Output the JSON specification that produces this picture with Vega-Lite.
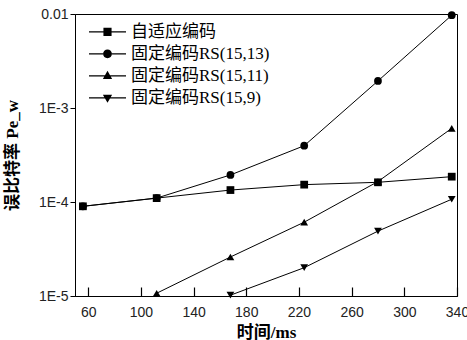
{
  "$schema": "https://vega.github.io/schema/vega-lite/v6.json",
  "width": 382,
  "height": 282,
  "autosize": "none",
  "padding": {"left": 75, "top": 14, "right": 10, "bottom": 44},
  "background": "white",
  "config": {
    "view": {"stroke": "black", "strokeWidth": 1},
    "axis": {"grid": false, "domainColor": "black", "tickColor": "black", "labelColor": "#222", "labelFont": "Liberation Sans", "labelFontSize": 14, "titleColor": "black"}
  },
  "data": {
    "values": [
      {"series": "自适应编码", "t": 56, "pe": 0.00009},
      {"series": "自适应编码", "t": 112, "pe": 0.00011},
      {"series": "自适应编码", "t": 168, "pe": 0.000134},
      {"series": "自适应编码", "t": 224, "pe": 0.000153},
      {"series": "自适应编码", "t": 280, "pe": 0.000162},
      {"series": "自适应编码", "t": 336, "pe": 0.000186},
      {"series": "固定编码RS(15,13)", "t": 56, "pe": 0.00009},
      {"series": "固定编码RS(15,13)", "t": 112, "pe": 0.00011},
      {"series": "固定编码RS(15,13)", "t": 168, "pe": 0.000194},
      {"series": "固定编码RS(15,13)", "t": 224, "pe": 0.000397},
      {"series": "固定编码RS(15,13)", "t": 280, "pe": 0.00194},
      {"series": "固定编码RS(15,13)", "t": 336, "pe": 0.0097},
      {"series": "固定编码RS(15,11)", "t": 112, "pe": 0.0000107},
      {"series": "固定编码RS(15,11)", "t": 168, "pe": 0.000026},
      {"series": "固定编码RS(15,11)", "t": 224, "pe": 0.000061},
      {"series": "固定编码RS(15,11)", "t": 280, "pe": 0.000165},
      {"series": "固定编码RS(15,11)", "t": 336, "pe": 0.000608},
      {"series": "固定编码RS(15,9)", "t": 168, "pe": 0.0000102},
      {"series": "固定编码RS(15,9)", "t": 224, "pe": 0.00002},
      {"series": "固定编码RS(15,9)", "t": 280, "pe": 0.000049},
      {"series": "固定编码RS(15,9)", "t": 336, "pe": 0.000107}
    ]
  },
  "encoding": {
    "x": {
      "field": "t", "type": "quantitative",
      "scale": {"domain": [50, 340], "nice": false, "zero": false},
      "axis": {"values": [60, 100, 140, 180, 220, 260, 300, 340], "title": "时间/ms", "titleFont": "Liberation Serif, Noto Sans CJK SC", "titleFontSize": 17, "titleFontWeight": "bold", "titlePadding": 5, "tickSize": -9, "tickWidth": 1.2, "labelPadding": 18, "labelFlush": false, "labelOverlap": false}
    },
    "y": {
      "field": "pe", "type": "quantitative",
      "scale": {"type": "log", "domain": [0.00001, 0.01], "nice": false},
      "axis": {"values": [0.00001, 0.0001, 0.001, 0.01], "labelExpr": "datum.value > 0.005 ? '0.01' : datum.value > 0.0005 ? '1E-3' : datum.value > 0.00005 ? '1E-4' : '1E-5'", "title": "误比特率 Pe_w", "titleFont": "Liberation Serif, Noto Sans CJK SC", "titleFontSize": 17, "titleFontWeight": "bold", "titlePadding": 17, "tickSize": 5, "labelPadding": 2}
    }
  },
  "layer": [
    {
      "mark": {"type": "line", "color": "black", "strokeWidth": 1},
      "encoding": {"detail": {"field": "series"}}
    },
    {
      "mark": {"type": "point", "filled": true, "color": "black", "size": 60, "opacity": 1},
      "encoding": {
        "shape": {
          "field": "series", "type": "nominal",
          "scale": {"domain": ["自适应编码", "固定编码RS(15,13)", "固定编码RS(15,11)", "固定编码RS(15,9)"], "range": ["square", "circle", "triangle-up", "triangle-down"]},
          "legend": null
        }
      }
    },
    {
      "transform": [{"filter": "datum.t < 0"}],
      "mark": {"type": "point", "filled": true, "color": "black", "opacity": 1},
      "encoding": {
        "shape": {
          "field": "series", "type": "nominal",
          "scale": {"domain": ["自适应编码", "固定编码RS(15,13)", "固定编码RS(15,11)", "固定编码RS(15,9)"], "range": [
            "M-1,-0.03H-0.22V0.03H-1Z M0.22,-0.03H1V0.03H0.22Z M-0.22,-0.22H0.22V0.22H-0.22Z",
            "M-1,-0.03H-0.24V0.03H-1Z M0.24,-0.03H1V0.03H0.24Z M0.24,0A0.24,0.24,0,1,1,-0.24,0A0.24,0.24,0,1,1,0.24,0Z",
            "M-1,-0.03H-0.14V0.03H-1Z M0.14,-0.03H1V0.03H0.14Z M0,-0.27L0.25,0.17L-0.25,0.17Z",
            "M-1,-0.03H-0.14V0.03H-1Z M0.14,-0.03H1V0.03H0.14Z M0,0.27L-0.25,-0.17L0.25,-0.17Z"
          ]},
          "legend": {
            "title": null, "orient": "none", "legendX": 13, "legendY": 7, "padding": 0,
            "symbolSize": 1369, "clipHeight": 21.7, "rowPadding": 0, "labelOffset": 4,
            "labelFont": "Liberation Serif, Noto Sans CJK SC", "labelFontSize": 17, "labelColor": "black",
            "symbolFillColor": "black", "symbolOpacity": 1
          }
        }
      }
    }
  ],
  "resolve": {"scale": {"shape": "independent"}}
}
